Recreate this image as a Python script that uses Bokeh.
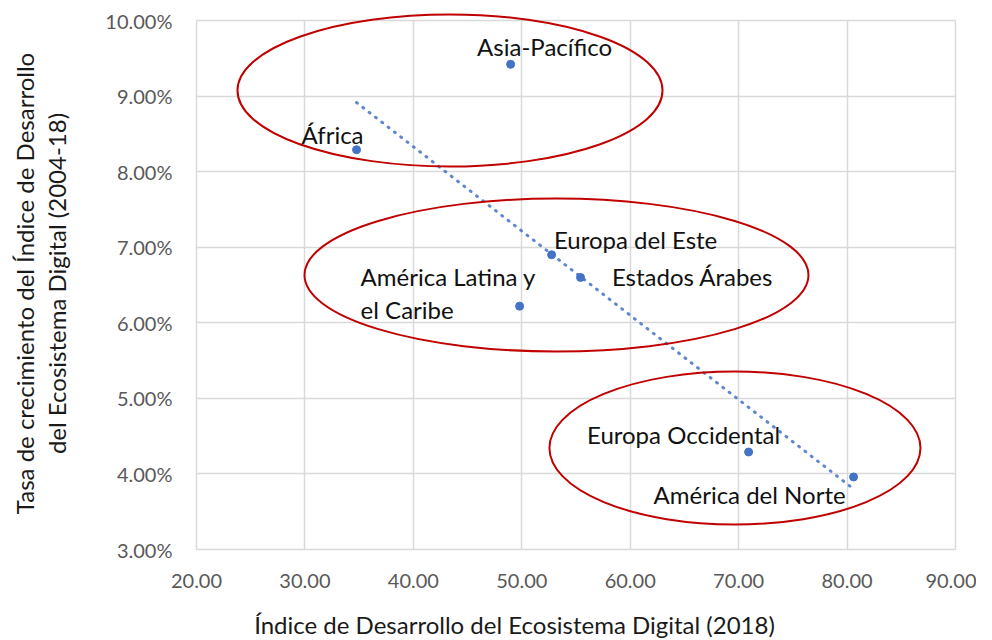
import numpy as np
from bokeh.plotting import figure
from bokeh.models import (ColumnDataSource, NumeralTickFormatter,
                          FixedTicker, Range1d, Label)
from bokeh.core.properties import value
from bokeh.embed import file_html
from bokeh.resources import INLINE

# ---------------- data ----------------
regions = ["Asia-Pacífico", "África", "Europa del Este", "Estados Árabes",
           "América Latina y\nel Caribe", "Europa Occidental", "América del Norte"]
index_2018 = [48.97, 34.76, 52.75, 55.42, 49.80, 70.92, 80.60]
growth_rate = [0.0942, 0.0829, 0.0690, 0.0660, 0.0622, 0.0429, 0.0396]

x_ticks = [20, 30, 40, 50, 60, 70, 80, 90]
y_ticks = [0.03, 0.04, 0.05, 0.06, 0.07, 0.08, 0.09, 0.10]

x_title = "Índice de Desarrollo del Ecosistema Digital (2018)"
y_title = "Tasa de crecimiento del Índice de Desarrollo\ndel Ecosistema Digital (2004-18)"

# group highlight ellipses (annotation shapes): centre x, centre y, width, height
ell_cx = [43.38, 53.20, 69.66]
ell_cy = [0.09074, 0.06632, 0.04343]
ell_w = [39.2, 46.48, 34.22]
ell_h = [0.02011, 0.02025, 0.02025]

# label placement (screen px offsets from each point) and alignment
lab_dx = [34, -24, 84, 112, -159, -65, -104]
lab_dy = [-18, -15, -15, -1, -13, -18, 18]
lab_align = ["center", "center", "center", "center", "left", "center", "center"]

FONT = "Lato"
BLUE = "#4472C4"
GRID = "#D9D9D9"

# ---------------- layout ----------------
# The plotting frame covers the whole canvas; the axes are pinned at the 20 / 3%
# lines so that ellipses and titles outside the grid are not clipped.
CANVAS_W, CANVAS_H = 976, 639
PX_X = 759.0 / (x_ticks[-1] - x_ticks[0])     # px per x unit (grid 20..90 spans 759 px)
PX_Y = 529.0 / (y_ticks[-1] - y_ticks[0])     # px per y unit (grid 3%..10% spans 529 px)
GRID_LEFT, GRID_TOP = 196, 20                 # canvas px of the 20 / 10% grid lines

x_lo = x_ticks[0] - GRID_LEFT / PX_X
x_hi = x_lo + CANVAS_W / PX_X
y_hi = y_ticks[-1] + GRID_TOP / PX_Y
y_lo = y_hi - CANVAS_H / PX_Y

p = figure(width=CANVAS_W, height=CANVAS_H, output_backend="svg",
           toolbar_location=None,
           x_range=Range1d(x_lo, x_hi), y_range=Range1d(y_lo, y_hi),
           min_border=0, min_border_left=0, min_border_right=0,
           min_border_top=0, min_border_bottom=0)
p.background_fill_color = "white"
p.border_fill_color = "white"
p.outline_line_color = None

for ax in (p.xaxis[0], p.yaxis[0]):
    ax.axis_line_color = None
    ax.major_tick_line_color = None
    ax.minor_tick_line_color = None
    ax.major_label_text_font = FONT
    ax.major_label_text_font_size = "20px"
    ax.major_label_text_color = "#595959"
    ax.major_label_standoff = 18

p.xaxis.ticker = FixedTicker(ticks=x_ticks)
p.yaxis.ticker = FixedTicker(ticks=y_ticks)
p.xaxis.formatter = NumeralTickFormatter(format="0.00")
p.yaxis.formatter = NumeralTickFormatter(format="0.00%")
p.xaxis.fixed_location = y_ticks[0]
p.yaxis.fixed_location = x_ticks[0]

p.xgrid.ticker = FixedTicker(ticks=x_ticks)
p.ygrid.ticker = FixedTicker(ticks=y_ticks)
p.xgrid.cross_bounds = (y_ticks[0], y_ticks[-1])
p.ygrid.cross_bounds = (x_ticks[0], x_ticks[-1])
p.grid.grid_line_color = GRID
p.grid.grid_line_width = 1.5

src = ColumnDataSource(dict(x=index_2018, y=growth_rate, name=regions,
                            dx=lab_dx, dy=lab_dy, align=lab_align))

# linear trend line (least squares fit of the data)
xs = np.array(index_2018)
ys = np.array(growth_rate)
slope, intercept = np.polyfit(xs, ys, 1)
tx = np.array([xs.min(), xs.max()])
p.line(tx, slope * tx + intercept, line_color=BLUE, line_width=3,
       line_dash="1 7", line_cap="round", alpha=0.85)

p.scatter("x", "y", source=src, size=8, fill_color=BLUE, line_color=BLUE)

p.text("x", "y", text="name", source=src, x_offset="dx", y_offset="dy",
       text_align="align", text_baseline="middle",
       text_font=value(FONT), text_font_size="24px", text_color="#111111",
       text_line_height=1.15)

p.ellipse(ell_cx, ell_cy, width=ell_w, height=ell_h,
          fill_color=None, line_color="#C00000", line_width=2)

# axis titles (screen px measured from the canvas bottom-left)
p.add_layout(Label(x=514, y=CANVAS_H - 624, x_units="screen", y_units="screen",
                   text=x_title, text_font=FONT, text_font_size="24px",
                   text_color="#1a1a1a", text_align="center",
                   text_baseline="middle"))
p.add_layout(Label(x=40, y=CANVAS_H - 283, x_units="screen", y_units="screen",
                   text=y_title, text_font=FONT, text_font_size="24px",
                   text_color="#1a1a1a", text_align="center",
                   text_baseline="middle", text_line_height=1.1,
                   angle=np.pi / 2))

open("out.html", "w").write(file_html(p, INLINE))
